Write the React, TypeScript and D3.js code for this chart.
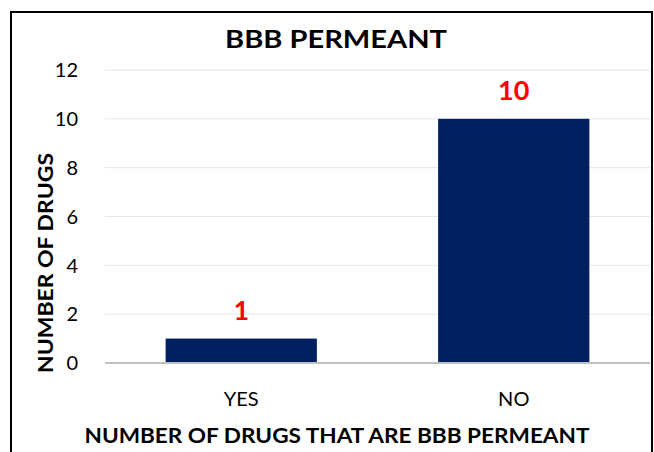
import React from "react";
import * as d3 from "d3";

const categories = ["YES", "NO"];
const values = [1, 10];
const yTicks = [0, 2, 4, 6, 8, 10, 12];
const title = "BBB PERMEANT";
const xTitle = "NUMBER OF DRUGS THAT ARE BBB PERMEANT";
const yTitle = "NUMBER OF DRUGS";

const W = 654;
const H = 452;
const FONT = "Lato, 'Open Sans', sans-serif";

export default function App() {
  const x = d3.scaleBand<string>().domain(categories).range([105, 650]).paddingInner(0.445).paddingOuter(0.2225);
  const y = d3.scaleLinear().domain([0, 12]).range([363, 70]);
  return (
    <svg width={W} height={H} style={{ position: "absolute", left: 0, top: 0, background: "#fff" }}>
      <rect x={11} y={12} width={641} height={460} fill="#fff" stroke="#000" strokeWidth={2} />
      {yTicks.map((t) => (
        <g key={t}>
          {t !== 0 && <line x1={105} x2={650} y1={y(t)} y2={y(t)} stroke="#e6e6e6" strokeWidth={1} />}
          <text x={78} y={y(t)} dy="0.36em" textAnchor="end" fontFamily={FONT} fontSize={20} fill="#000">
            {t}
          </text>
        </g>
      ))}
      {categories.map((c, i) => (
        <g key={c}>
          <rect x={x(c)} y={y(values[i])} width={x.bandwidth()} height={y(0) - y(values[i])} fill="#002060" />
          <text x={(x(c) as number) + x.bandwidth() / 2} y={y(values[i]) - 19} textAnchor="middle" fontFamily={FONT} fontWeight="bold" fontSize={27} fill="#ff0000">
            {values[i]}
          </text>
          <text x={(x(c) as number) + x.bandwidth() / 2} y={406} textAnchor="middle" fontFamily={FONT} fontSize={20} fill="#000">
            {c}
          </text>
        </g>
      ))}
      <line x1={105} x2={650} y1={y(0)} y2={y(0)} stroke="#bfbfbf" strokeWidth={2} />
      <text x={336} y={48} textAnchor="middle" fontFamily={FONT} fontWeight="bold" fontSize={25} textLength={222} lengthAdjust="spacingAndGlyphs" fill="#000">
        {title}
      </text>
      <text x={337} y={443} textAnchor="middle" fontFamily={FONT} fontWeight="bold" fontSize={20} textLength={505} lengthAdjust="spacingAndGlyphs" fill="#000">
        {xTitle}
      </text>
      <text transform={`translate(53,263) rotate(-90)`} textAnchor="middle" fontFamily={FONT} fontWeight="bold" fontSize={21} textLength={220} lengthAdjust="spacingAndGlyphs" fill="#000">
        {yTitle}
      </text>
    </svg>
  );
}
